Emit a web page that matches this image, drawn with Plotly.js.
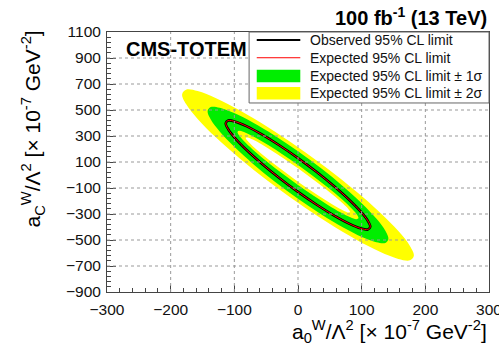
<!DOCTYPE html>
<html>
<head>
<meta charset="utf-8">
<script src="https://cdn.plot.ly/plotly-3.0.1.min.js"></script>
<style>
  html, body { margin: 0; padding: 0; background: #ffffff; }
  #plot { width: 499px; height: 348px; }
</style>
</head>
<body>
<div id="plot"></div>
<script>
// Contours in the (a0W/Λ², aCW/Λ²) plane, units of 1e-7 GeV^-2.

// Observed 95% CL limit
const obsX = [0, 29.4, 56.8, 80.3, 98.3, 109.6, 113.5, 109.6, 98.3, 80.3, 56.8, 29.4,
              0, -29.4, -56.8, -80.3, -98.3, -109.6, -113.5, -109.6, -98.3, -80.3, -56.8, -29.4, 0];
const obsY = [130, 22.3, -86.9, -190.2, -280.5, -351.8, -399, -419.0, -410.5, -374.1, -312.1, -228.8,
              -130, -22.3, 86.9, 190.2, 280.5, 351.8, 399, 419.0, 410.5, 374.1, 312.1, 228.8, 130];

// Expected 95% CL limit
const expX = [0, 29.4, 56.8, 80.3, 98.3, 109.6, 113.5, 109.6, 98.3, 80.3, 56.8, 29.4,
              0, -29.4, -56.8, -80.3, -98.3, -109.6, -113.5, -109.6, -98.3, -80.3, -56.8, -29.4, 0];
const expY = [130, 22.3, -86.9, -190.2, -280.5, -351.8, -399, -419.0, -410.5, -374.1, -312.1, -228.8,
              -130, -22.3, 86.9, 190.2, 280.5, 351.8, 399, 419.0, 410.5, 374.1, 312.1, 228.8, 130];

// Expected +1 sigma edge
const up1X = [0, 36.8, 71, 100.4, 123.0, 137.2, 142, 137.2, 123.0, 100.4, 71, 36.8,
              0, -36.8, -71, -100.4, -123.0, -137.2, -142, -137.2, -123.0, -100.4, -71, -36.8, 0];
const up1Y = [183, 49.4, -87.5, -218.5, -334.6, -427.9, -492, -522.6, -517.6, -477.3, -404.5, -304.1,
              -183, -49.4, 87.5, 218.5, 334.6, 427.9, 492, 522.6, 517.6, 477.3, 404.5, 304.1, 183];

// Expected -1 sigma edge
const dn1X = [0, 24.6, 47.5, 67.2, 82.3, 91.8, 95, 91.8, 82.3, 67.2, 47.5, 24.6,
              0, -24.6, -47.5, -67.2, -82.3, -91.8, -95, -91.8, -82.3, -67.2, -47.5, -24.6, 0];
const dn1Y = [77, -11.3, -98.8, -179.6, -248.2, -299.8, -331, -339.7, -325.2, -288.5, -232.2, -160.0,
              -77, 11.3, 98.8, 179.6, 248.2, 299.8, 331, 339.7, 325.2, 288.5, 232.2, 160.0, 77];

// Expected +2 sigma edge
const up2X = [0, 47.1, 91, 128.7, 157.6, 175.8, 182, 175.8, 157.6, 128.7, 91, 47.1,
              0, -47.1, -91, -128.7, -157.6, -175.8, -182, -175.8, -157.6, -128.7, -91, -47.1, 0];
const up2Y = [214, 45.7, -125.7, -288.5, -431.7, -545.4, -622, -656.2, -645.7, -591.1, -496.3, -367.7,
              -214, -45.7, 125.7, 288.5, 431.7, 545.4, 622, 656.2, 645.7, 591.1, 496.3, 367.7, 214];

// Expected -2 sigma edge
const dn2X = [0, 21.2, 41, 58.0, 71.0, 79.2, 82, 79.2, 71.0, 58.0, 41, 21.2,
              0, -21.2, -41, -58.0, -71.0, -79.2, -82, -79.2, -71.0, -58.0, -41, -21.2, 0];
const dn2Y = [51, -24.6, -98.6, -165.8, -221.7, -262.6, -285.5, -289.0, -272.7, -237.9, -186.9, -123.2,
              -51, 24.6, 98.6, 165.8, 221.7, 262.6, 285.5, 289.0, 272.7, 237.9, 186.9, 123.2, 51];

const xTicks = [-300, -200, -100, 0, 100, 200, 300];
const yTicks = [-900, -700, -500, -300, -100, 100, 300, 500, 700, 900, 1100];

const legendLabels = [
  'Observed 95% CL limit',
  'Expected 95% CL limit',
  'Expected 95% CL limit ± 1σ',
  'Expected 95% CL limit ± 2σ'
];

const FONT = '"Liberation Sans", Arial, Helvetica, sans-serif';
const YELLOW = '#ffff00';
const GREEN = '#00ee00';

function band(x, y, color) {
  return {
    x: x, y: y, type: 'scatter', mode: 'lines',
    fill: 'toself', fillcolor: color,
    line: { width: 0, color: color, shape: 'spline', smoothing: 1 },
    hoverinfo: 'skip', showlegend: false
  };
}

const traces = [
  band(up2X, up2Y, YELLOW),
  band(up1X, up1Y, GREEN),
  band(dn1X, dn1Y, YELLOW),
  band(dn2X, dn2Y, '#ffffff'),
  { x: obsX, y: obsY, type: 'scatter', mode: 'lines',
    line: { color: '#000000', width: 2.6, shape: 'spline', smoothing: 1 },
    hoverinfo: 'skip', showlegend: false },
  { x: expX, y: expY, type: 'scatter', mode: 'lines',
    line: { color: '#ff0000', width: 1, shape: 'spline', smoothing: 1 },
    hoverinfo: 'skip', showlegend: false }
];

// dotted grid drawn above the filled bands
const shapes = [];
xTicks.slice(1, -1).forEach(v => shapes.push({
  type: 'line', xref: 'x', yref: 'paper', x0: v, x1: v, y0: 0, y1: 1,
  line: { color: '#999999', width: 1, dash: 'dot' }, layer: 'above'
}));
yTicks.slice(1, -1).forEach(v => shapes.push({
  type: 'line', xref: 'paper', yref: 'y', x0: 0, x1: 1, y0: v, y1: v,
  line: { color: '#999999', width: 1, dash: 'dot' }, layer: 'above'
}));

// legend box
const LG = { x0: 0.372, x1: 1.0, y0: 0.727, y1: 1.0, sx0: 0.392, sx1: 0.506, tx: 0.527,
             rows: [0.969, 0.901, 0.831, 0.764], half: 0.024 };
shapes.push({ type: 'rect', xref: 'paper', yref: 'paper', x0: LG.x0, x1: LG.x1, y0: LG.y0, y1: LG.y1,
  fillcolor: '#ffffff', line: { color: '#666666', width: 1 }, layer: 'above' });
shapes.push({ type: 'line', xref: 'paper', yref: 'paper', x0: LG.sx0, x1: LG.sx1, y0: LG.rows[0], y1: LG.rows[0],
  line: { color: '#000000', width: 2 }, layer: 'above' });
shapes.push({ type: 'line', xref: 'paper', yref: 'paper', x0: LG.sx0, x1: LG.sx1, y0: LG.rows[1], y1: LG.rows[1],
  line: { color: '#ff0000', width: 1 }, layer: 'above' });
shapes.push({ type: 'rect', xref: 'paper', yref: 'paper', x0: LG.sx0, x1: LG.sx1,
  y0: LG.rows[2] - LG.half, y1: LG.rows[2] + LG.half, fillcolor: GREEN, line: { width: 0 }, layer: 'above' });
shapes.push({ type: 'rect', xref: 'paper', yref: 'paper', x0: LG.sx0, x1: LG.sx1,
  y0: LG.rows[3] - LG.half, y1: LG.rows[3] + LG.half, fillcolor: YELLOW, line: { width: 0 }, layer: 'above' });

const annotations = legendLabels.map((t, i) => ({
  text: t, xref: 'paper', yref: 'paper', x: LG.tx, y: LG.rows[i],
  xanchor: 'left', yanchor: 'middle', showarrow: false,
  font: { family: FONT, size: 14, color: '#111111' }
}));

annotations.push({
  text: '<b>CMS-TOTEM</b>', xref: 'paper', yref: 'paper', x: 0.045, y: 0.935,
  xanchor: 'left', yanchor: 'middle', showarrow: false,
  font: { family: FONT, size: 20, color: '#000000' }
});
annotations.push({
  text: '<b>100 fb<sup>-1</sup> (13 TeV)</b>', xref: 'paper', yref: 'paper', x: 1.0, y: 1.0,
  xanchor: 'right', yanchor: 'bottom', yshift: 1, showarrow: false,
  font: { family: FONT, size: 20, color: '#000000' }
});
annotations.push({
  text: 'a<sub>0</sub><sup>W</sup>/Λ<sup>2</sup> [× 10<sup>-7</sup> GeV<sup>-2</sup>]',
  xref: 'paper', yref: 'paper', x: 1.0, y: -0.15,
  xanchor: 'right', yanchor: 'middle', showarrow: false,
  font: { family: FONT, size: 21, color: '#000000' }
});
annotations.push({
  text: 'a<sub>C</sub><sup>W</sup>/Λ<sup>2</sup> [× 10<sup>-7</sup> GeV<sup>-2</sup>]',
  xref: 'paper', yref: 'paper', x: -0.194, y: 1.015, textangle: -90,
  xanchor: 'center', yanchor: 'top', showarrow: false,
  font: { family: FONT, size: 21, color: '#000000' }
});

const axisCommon = {
  showline: true, linecolor: '#444444', linewidth: 1, mirror: true,
  showgrid: false, zeroline: false,
  ticks: 'inside', tickcolor: '#444444', tickwidth: 1,
  tickfont: { family: FONT, size: 15.5, color: '#111111' }
};

const layout = {
  width: 499, height: 348,
  margin: { l: 107, r: 10, t: 32, b: 56 },
  paper_bgcolor: '#ffffff', plot_bgcolor: '#ffffff',
  showlegend: false,
  xaxis: Object.assign({}, axisCommon, {
    range: [-300, 300], tickvals: xTicks, ticklen: 7, ticklabelstandoff: 3,
    ticklabeloverflow: 'allow',
    minor: { dtick: 20, tick0: -300, ticks: 'inside', ticklen: 4, tickcolor: '#444444' }
  }),
  yaxis: Object.assign({}, axisCommon, {
    range: [-900, 1100], tickvals: yTicks, ticklen: 9, ticklabelstandoff: 2,
    minor: { dtick: 40, tick0: -900, ticks: 'inside', ticklen: 4, tickcolor: '#444444' }
  }),
  shapes: shapes,
  annotations: annotations
};

Plotly.newPlot('plot', traces, layout, { staticPlot: true, displayModeBar: false });
</script>
</body>
</html>
